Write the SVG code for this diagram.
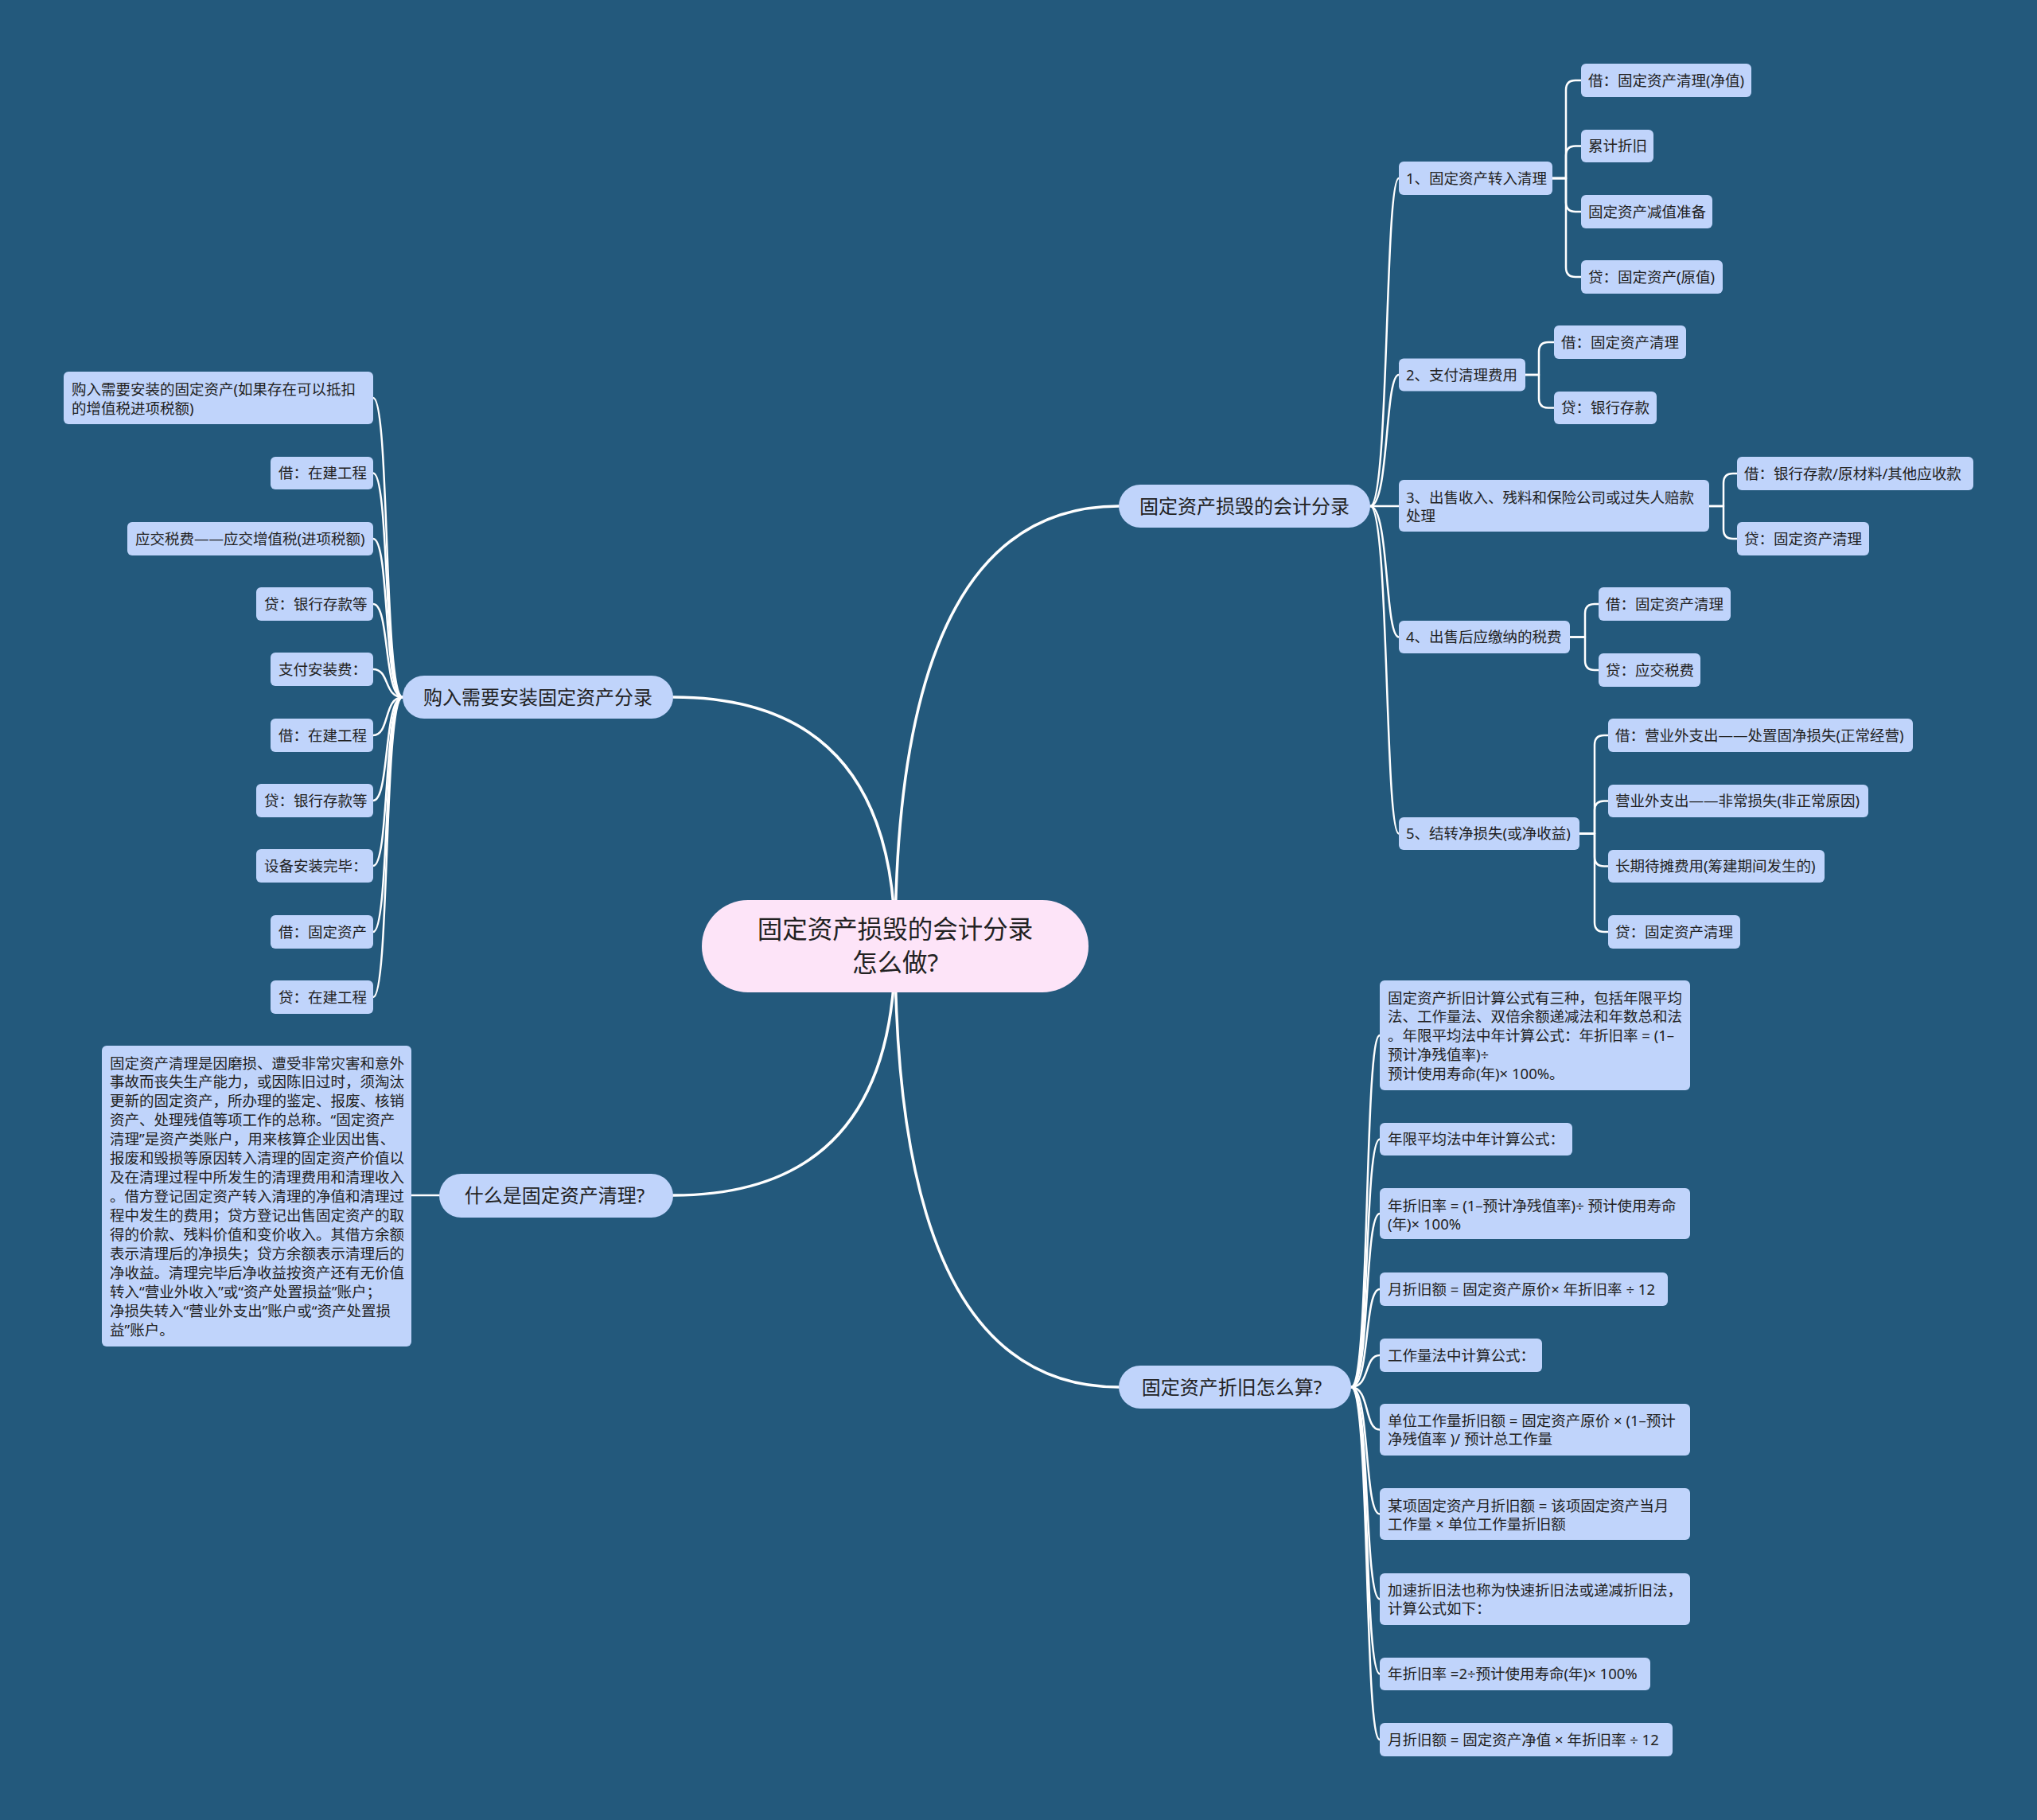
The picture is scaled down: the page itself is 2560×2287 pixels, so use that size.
<svg xmlns="http://www.w3.org/2000/svg" width="2560" height="2287" viewBox="0 0 2560 2287">
<style>
.bg{fill:#23597c}
.box{fill:#c0d4fb}
.pill{fill:#c0d4fb}
.root{fill:#fde4f8}
text{font-family:"Noto Sans","Noto Sans CJK SC",sans-serif;fill:#222}
.t{font-size:18.5px}
.m{font-size:24px;text-anchor:middle}
.r{font-size:31.5px;text-anchor:middle}
.c0{fill:none;stroke:#ffffff;stroke-width:3.5;stroke-linecap:round}
.c1{fill:none;stroke:#ffffff;stroke-width:2.5;stroke-linecap:round}
.c2{fill:none;stroke:#ffffff;stroke-width:2.5;stroke-linecap:round;stroke-linejoin:round}
</style>
<rect class="bg" x="0" y="0" width="2560" height="2287"/>

<g id="connectors">
  <path class="c0" d="M 1125 1189 Q 1125 636 1406 636"/>
  <path class="c0" d="M 1125 1189 Q 1125 876 846 876"/>
  <path class="c0" d="M 1125 1189 Q 1125 1502 846 1502"/>
  <path class="c0" d="M 1125 1189 Q 1125 1743 1406 1743"/>
  <path class="c1" d="M 1722 636 C 1746 636 1740 224 1758 224"/>
  <path class="c1" d="M 1722 636 C 1746 636 1740 471 1758 471"/>
  <path class="c1" d="M 1722 636 H 1758"/>
  <path class="c1" d="M 1722 636 C 1746 636 1740 800.5 1758 800.5"/>
  <path class="c1" d="M 1722 636 C 1746 636 1740 1047.5 1758 1047.5"/>
  <path class="c2" d="M 1951 224 H 1968 V 113 Q 1968 101 1980 101 H 1987"/>
  <path class="c2" d="M 1951 224 H 1968 V 195.5 Q 1968 183.5 1980 183.5 H 1987"/>
  <path class="c2" d="M 1951 224 H 1968 V 254 Q 1968 266 1980 266 H 1987"/>
  <path class="c2" d="M 1951 224 H 1968 V 336 Q 1968 348 1980 348 H 1987"/>
  <path class="c2" d="M 1917 471 H 1934 V 442 Q 1934 430 1946 430 H 1953"/>
  <path class="c2" d="M 1917 471 H 1934 V 500.5 Q 1934 512.5 1946 512.5 H 1953"/>
  <path class="c2" d="M 2148 636 H 2166 V 607 Q 2166 595 2178 595 H 2183"/>
  <path class="c2" d="M 2148 636 H 2166 V 665 Q 2166 677 2178 677 H 2183"/>
  <path class="c2" d="M 1973 800.5 H 1992 V 771 Q 1992 759 2004 759 H 2009"/>
  <path class="c2" d="M 1973 800.5 H 1992 V 830 Q 1992 842 2004 842 H 2009"/>
  <path class="c2" d="M 1985 1047.5 H 2004 V 936 Q 2004 924 2016 924 H 2021"/>
  <path class="c2" d="M 1985 1047.5 H 2004 V 1018.5 Q 2004 1006.5 2016 1006.5 H 2021"/>
  <path class="c2" d="M 1985 1047.5 H 2004 V 1076.5 Q 2004 1088.5 2016 1088.5 H 2021"/>
  <path class="c2" d="M 1985 1047.5 H 2004 V 1159 Q 2004 1171 2016 1171 H 2021"/>
  <path class="c1" d="M 506 876 C 482 876 490 500 469 500"/>
  <path class="c1" d="M 506 876 C 482 876 490 594.5 469 594.5"/>
  <path class="c1" d="M 506 876 C 482 876 490 677 469 677"/>
  <path class="c1" d="M 506 876 C 482 876 490 759 469 759"/>
  <path class="c1" d="M 506 876 C 482 876 490 841 469 841"/>
  <path class="c1" d="M 506 876 C 482 876 490 924 469 924"/>
  <path class="c1" d="M 506 876 C 482 876 490 1006 469 1006"/>
  <path class="c1" d="M 506 876 C 482 876 490 1088 469 1088"/>
  <path class="c1" d="M 506 876 C 482 876 490 1171 469 1171"/>
  <path class="c1" d="M 506 876 C 482 876 490 1253 469 1253"/>
  <path class="c1" d="M 552 1502 H 517"/>
  <path class="c1" d="M 1698 1743 C 1722 1743 1714 1301 1734 1301"/>
  <path class="c1" d="M 1698 1743 C 1722 1743 1714 1431.5 1734 1431.5"/>
  <path class="c1" d="M 1698 1743 C 1722 1743 1714 1525 1734 1525"/>
  <path class="c1" d="M 1698 1743 C 1722 1743 1714 1620 1734 1620"/>
  <path class="c1" d="M 1698 1743 C 1722 1743 1714 1703 1734 1703"/>
  <path class="c1" d="M 1698 1743 C 1722 1743 1714 1796.5 1734 1796.5"/>
  <path class="c1" d="M 1698 1743 C 1722 1743 1714 1902.5 1734 1902.5"/>
  <path class="c1" d="M 1698 1743 C 1722 1743 1714 2009.5 1734 2009.5"/>
  <path class="c1" d="M 1698 1743 C 1722 1743 1714 2103.5 1734 2103.5"/>
  <path class="c1" d="M 1698 1743 C 1722 1743 1714 2186 1734 2186"/>
</g>

<g id="root">
  <rect class="root" x="882" y="1131" width="486" height="116" rx="58"/>
  <text class="r" x="1125" y="1179">固定资产损毁的会计分录</text>
  <text class="r" x="1125" y="1221">怎么做?</text>
</g>

<g id="b1"><rect class="pill" x="1406" y="609" width="316" height="54" rx="27"/><text class="m" x="1564" y="644.5">固定资产损毁的会计分录</text></g>
<g id="b2"><rect class="pill" x="506" y="849" width="340" height="54" rx="27"/><text class="m" x="676" y="884.5">购入需要安装固定资产分录</text></g>
<g id="b3"><rect class="pill" x="552" y="1475" width="294" height="55" rx="27.5"/><text class="m" x="697" y="1510.5">什么是固定资产清理?</text></g>
<g id="b4"><rect class="pill" x="1406" y="1716" width="292" height="54" rx="27"/><text class="m" x="1548" y="1751.5">固定资产折旧怎么算?</text></g>

<g id="s1"><rect class="box" x="1758" y="203" width="193" height="42" rx="6"/><text class="t" x="1767" y="230.5">1、固定资产转入清理</text></g>
<g id="s2"><rect class="box" x="1758" y="450.5" width="159" height="41" rx="6"/><text class="t" x="1767" y="477.5">2、支付清理费用</text></g>
<g id="s3"><rect class="box" x="1758" y="603" width="390" height="65" rx="6"/><text class="t" x="1767" y="631.5">3、出售收入、残料和保险公司或过失人赔款</text><text class="t" x="1767" y="654.5">处理</text></g>
<g id="s4"><rect class="box" x="1758" y="780" width="215" height="41" rx="6"/><text class="t" x="1767" y="807">4、出售后应缴纳的税费</text></g>
<g id="s5"><rect class="box" x="1758" y="1027" width="227" height="41" rx="6"/><text class="t" x="1767" y="1054">5、结转净损失(或净收益)</text></g>

<g id="s1a"><rect class="box" x="1987" y="80" width="214" height="42" rx="6"/><text class="t" x="1996" y="107.5">借：固定资产清理(净值)</text></g>
<g id="s1b"><rect class="box" x="1987" y="163" width="91" height="41" rx="6"/><text class="t" x="1996" y="190">累计折旧</text></g>
<g id="s1c"><rect class="box" x="1987" y="245" width="165" height="42" rx="6"/><text class="t" x="1996" y="272.5">固定资产减值准备</text></g>
<g id="s1d"><rect class="box" x="1987" y="327" width="178" height="42" rx="6"/><text class="t" x="1996" y="354.5">贷：固定资产(原值)</text></g>
<g id="s2a"><rect class="box" x="1953" y="409" width="166" height="42" rx="6"/><text class="t" x="1962" y="436.5">借：固定资产清理</text></g>
<g id="s2b"><rect class="box" x="1953" y="492" width="129" height="41" rx="6"/><text class="t" x="1962" y="519">贷：银行存款</text></g>
<g id="s3a"><rect class="box" x="2183" y="574" width="297" height="42" rx="6"/><text class="t" x="2192" y="601.5">借：银行存款/原材料/其他应收款</text></g>
<g id="s3b"><rect class="box" x="2183" y="656" width="166" height="42" rx="6"/><text class="t" x="2192" y="683.5">贷：固定资产清理</text></g>
<g id="s4a"><rect class="box" x="2009" y="738" width="166" height="42" rx="6"/><text class="t" x="2018" y="765.5">借：固定资产清理</text></g>
<g id="s4b"><rect class="box" x="2009" y="821" width="128" height="42" rx="6"/><text class="t" x="2018" y="848.5">贷：应交税费</text></g>
<g id="s5a"><rect class="box" x="2021" y="903" width="383" height="42" rx="6"/><text class="t" x="2030" y="930.5">借：营业外支出——处置固净损失(正常经营)</text></g>
<g id="s5b"><rect class="box" x="2021" y="986" width="327" height="41" rx="6"/><text class="t" x="2030" y="1013">营业外支出——非常损失(非正常原因)</text></g>
<g id="s5c"><rect class="box" x="2021" y="1068" width="272" height="41" rx="6"/><text class="t" x="2030" y="1095">长期待摊费用(筹建期间发生的)</text></g>
<g id="s5d"><rect class="box" x="2021" y="1150" width="166" height="42" rx="6"/><text class="t" x="2030" y="1177.5">贷：固定资产清理</text></g>

<g id="p1"><rect class="box" x="80" y="467" width="389" height="66" rx="6"/><text class="t" x="90" y="495.5">购入需要安装的固定资产(如果存在可以抵扣</text><text class="t" x="90" y="519.5">的增值税进项税额)</text></g>
<g id="p2"><rect class="box" x="340" y="574" width="129" height="41" rx="6"/><text class="t" x="350" y="601">借：在建工程</text></g>
<g id="p3"><rect class="box" x="160" y="656" width="309" height="42" rx="6"/><text class="t" x="170" y="683.5">应交税费——应交增值税(进项税额)</text></g>
<g id="p4"><rect class="box" x="322" y="738" width="147" height="42" rx="6"/><text class="t" x="332" y="765.5">贷：银行存款等</text></g>
<g id="p5"><rect class="box" x="340" y="820" width="129" height="42" rx="6"/><text class="t" x="350" y="847.5">支付安装费：</text></g>
<g id="p6"><rect class="box" x="340" y="903" width="129" height="42" rx="6"/><text class="t" x="350" y="930.5">借：在建工程</text></g>
<g id="p7"><rect class="box" x="322" y="985" width="147" height="42" rx="6"/><text class="t" x="332" y="1012.5">贷：银行存款等</text></g>
<g id="p8"><rect class="box" x="322" y="1067" width="147" height="42" rx="6"/><text class="t" x="332" y="1094.5">设备安装完毕：</text></g>
<g id="p9"><rect class="box" x="340" y="1150" width="129" height="42" rx="6"/><text class="t" x="350" y="1177.5">借：固定资产</text></g>
<g id="p10"><rect class="box" x="340" y="1232" width="129" height="42" rx="6"/><text class="t" x="350" y="1259.5">贷：在建工程</text></g>

<g id="q1">
  <rect class="box" x="128" y="1314" width="389" height="378" rx="6"/>
  <text class="t" x="138" y="1342.5">固定资产清理是因磨损、遭受非常灾害和意外</text>
  <text class="t" x="138" y="1366.4">事故而丧失生产能力，或因陈旧过时，须淘汰</text>
  <text class="t" x="138" y="1390.4">更新的固定资产，所办理的鉴定、报废、核销</text>
  <text class="t" x="138" y="1414.3">资产、处理残值等项工作的总称。“固定资产</text>
  <text class="t" x="138" y="1438.2">清理”是资产类账户，用来核算企业因出售、</text>
  <text class="t" x="138" y="1462.2">报废和毁损等原因转入清理的固定资产价值以</text>
  <text class="t" x="138" y="1486.1">及在清理过程中所发生的清理费用和清理收入</text>
  <text class="t" x="138" y="1510">。借方登记固定资产转入清理的净值和清理过</text>
  <text class="t" x="138" y="1533.9">程中发生的费用；贷方登记出售固定资产的取</text>
  <text class="t" x="138" y="1557.9">得的价款、残料价值和变价收入。其借方余额</text>
  <text class="t" x="138" y="1581.8">表示清理后的净损失；贷方余额表示清理后的</text>
  <text class="t" x="138" y="1605.7">净收益。清理完毕后净收益按资产还有无价值</text>
  <text class="t" x="138" y="1629.7">转入“营业外收入”或“资产处置损益”账户；</text>
  <text class="t" x="138" y="1653.6">净损失转入“营业外支出”账户或“资产处置损</text>
  <text class="t" x="138" y="1677.5">益”账户。</text>
</g>

<g id="d1">
  <rect class="box" x="1734" y="1232" width="390" height="138" rx="6"/>
  <text class="t" x="1744" y="1260.5">固定资产折旧计算公式有三种，包括年限平均</text>
  <text class="t" x="1744" y="1284.3">法、工作量法、双倍余额递减法和年数总和法</text>
  <text class="t" x="1744" y="1308">。年限平均法中年计算公式：年折旧率 = (1–</text>
  <text class="t" x="1744" y="1331.8">预计净残值率)÷</text>
  <text class="t" x="1744" y="1355.5">预计使用寿命(年)× 100%。</text>
</g>
<g id="d2"><rect class="box" x="1734" y="1411" width="242" height="41" rx="6"/><text class="t" x="1744" y="1438">年限平均法中年计算公式：</text></g>
<g id="d3"><rect class="box" x="1734" y="1493" width="390" height="64" rx="6"/><text class="t" x="1744" y="1521.5">年折旧率 = (1–预计净残值率)÷ 预计使用寿命</text><text class="t" x="1744" y="1544.5">(年)× 100%</text></g>
<g id="d4"><rect class="box" x="1734" y="1599" width="362" height="42" rx="6"/><text class="t" x="1744" y="1626.5">月折旧额 = 固定资产原价× 年折旧率 ÷ 12</text></g>
<g id="d5"><rect class="box" x="1734" y="1682" width="204" height="42" rx="6"/><text class="t" x="1744" y="1709.5">工作量法中计算公式：</text></g>
<g id="d6"><rect class="box" x="1734" y="1764" width="390" height="65" rx="6"/><text class="t" x="1744" y="1791.5">单位工作量折旧额 = 固定资产原价 × (1–预计</text><text class="t" x="1744" y="1815">净残值率 )/ 预计总工作量</text></g>
<g id="d7"><rect class="box" x="1734" y="1870" width="390" height="65" rx="6"/><text class="t" x="1744" y="1898.5">某项固定资产月折旧额 = 该项固定资产当月</text><text class="t" x="1744" y="1921.5">工作量 × 单位工作量折旧额</text></g>
<g id="d8"><rect class="box" x="1734" y="1977" width="390" height="65" rx="6"/><text class="t" x="1744" y="2004.5">加速折旧法也称为快速折旧法或递减折旧法，</text><text class="t" x="1744" y="2027.5">计算公式如下：</text></g>
<g id="d9"><rect class="box" x="1734" y="2083" width="340" height="41" rx="6"/><text class="t" x="1744" y="2110">年折旧率 =2÷预计使用寿命(年)× 100%</text></g>
<g id="d10"><rect class="box" x="1734" y="2165" width="368" height="42" rx="6"/><text class="t" x="1744" y="2192.5">月折旧额 = 固定资产净值 × 年折旧率 ÷ 12</text></g>
</svg>
